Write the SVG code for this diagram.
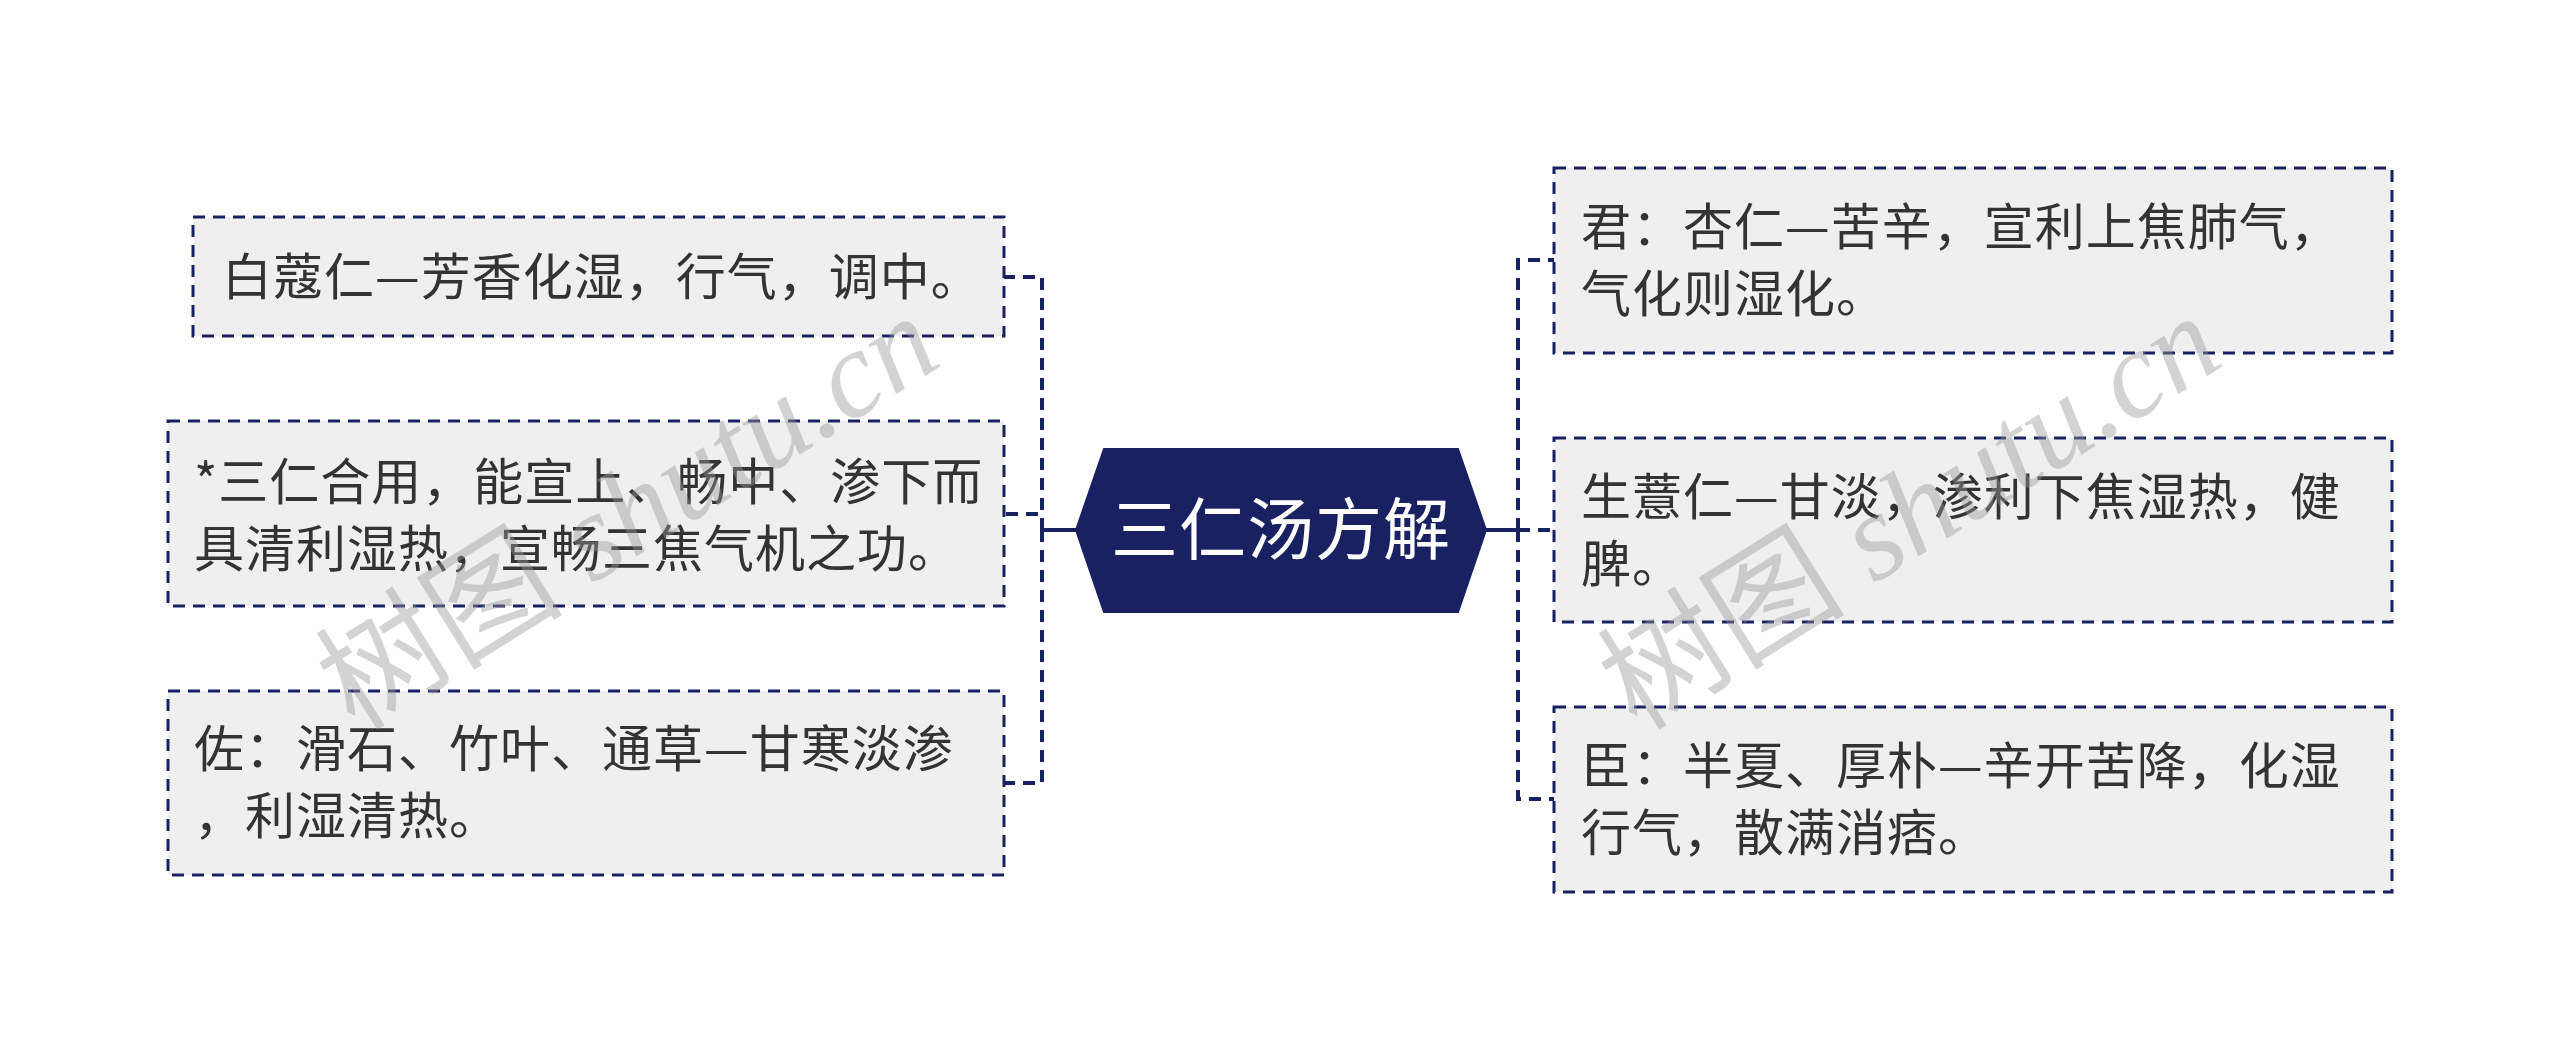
<svg xmlns="http://www.w3.org/2000/svg" width="2560" height="1061" viewBox="0 0 2560 1061">
<style>
.box{fill:#efefef;stroke:#1a2163;stroke-width:3;stroke-dasharray:12 8}
.t{font-family:"Noto Sans CJK SC","Noto Sans",sans-serif;font-size:50px;letter-spacing:1px;fill:#333333}
.ct{font-family:"Noto Sans CJK SC","Noto Sans",sans-serif;font-size:67px;letter-spacing:1px;fill:#ffffff}
.con{fill:none;stroke:#1a2163;stroke-width:4;stroke-dasharray:12 8}
.sol{fill:none;stroke:#1a2163;stroke-width:4}
.wm{font-family:"Liberation Serif","Noto Sans CJK SC",serif;font-size:124px;fill:#999999;opacity:0.42}
</style>
<rect width="2560" height="1061" fill="#ffffff"/>
<g id="connectors">
<path class="sol" d="M1076 530 H1042"/>
<path class="con" d="M1042 530 V277 H1004"/>
<path class="con" d="M1042 530 V514 H1004"/>
<path class="con" d="M1042 530 V783 H1004"/>
<path class="sol" d="M1486 530 H1518"/>
<path class="con" d="M1518 530 V260 H1554"/>
<path class="con" d="M1518 530 H1554"/>
<path class="con" d="M1518 530 V799 H1554"/>
</g>
<g id="root">
<polygon points="1076,530 1104,449 1458,449 1486,530 1458,612 1104,612" fill="#1a2163" stroke="#1a2163" stroke-width="2"/>
<text class="ct" x="1281" y="554" text-anchor="middle">三仁汤方解</text>
</g>
<g id="left1">
<rect class="box" x="193" y="217" width="811" height="119"/>
<text class="t" x="222" y="295">白蔻仁—芳香化湿，行气，调中。</text>
</g>
<g id="left2">
<rect class="box" x="168" y="421" width="836" height="185"/>
<text class="t" x="194" y="500">*三仁合用，能宣上、畅中、渗下而</text>
<text class="t" x="194" y="567">具清利湿热，宣畅三焦气机之功。</text>
</g>
<g id="left3">
<rect class="box" x="168" y="691" width="836" height="184"/>
<text class="t" x="194" y="767">佐：滑石、竹叶、通草—甘寒淡渗</text>
<text class="t" x="194" y="834">，利湿清热。</text>
</g>
<g id="right1">
<rect class="box" x="1554" y="168" width="838" height="185"/>
<text class="t" x="1581" y="245">君：杏仁—苦辛，宣利上焦肺气，</text>
<text class="t" x="1581" y="312">气化则湿化。</text>
</g>
<g id="right2">
<rect class="box" x="1554" y="438" width="838" height="184"/>
<text class="t" x="1581" y="515">生薏仁—甘淡，渗利下焦湿热，健</text>
<text class="t" x="1581" y="582">脾。</text>
</g>
<g id="right3">
<rect class="box" x="1554" y="707" width="838" height="185"/>
<text class="t" x="1581" y="784">臣：半夏、厚朴—辛开苦降，化湿</text>
<text class="t" x="1581" y="851">行气，散满消痞。</text>
</g>
<g id="watermarks">
<text class="wm" transform="translate(650,548) rotate(-32)" text-anchor="middle">树图 <tspan font-style="italic">shutu.cn</tspan></text>
<text class="wm" transform="translate(1932,548) rotate(-32)" text-anchor="middle">树图 <tspan font-style="italic">shutu.cn</tspan></text>
</g>
</svg>
